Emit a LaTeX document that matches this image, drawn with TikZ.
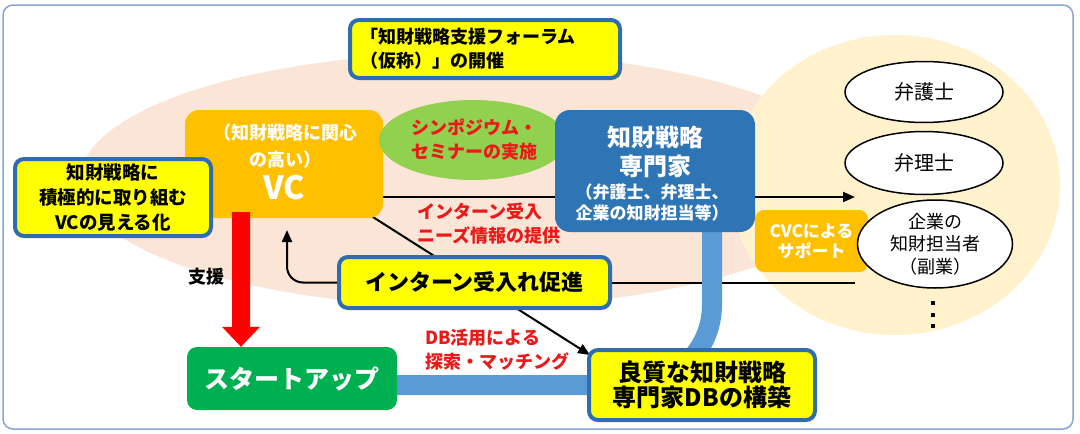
\documentclass[tikz,border=0pt]{standalone}
\usepackage{fontspec}
\setmainfont{Noto Sans CJK JP}
\usetikzlibrary{arrows.meta,calc,shapes.geometric}
\pgfdeclarelayer{back}
\pgfdeclarelayer{lines}
\pgfsetlayers{back,lines,main}
\definecolor{framec}{RGB}{135,165,215}
\definecolor{pinkc}{RGB}{251,229,214}
\definecolor{beigec}{RGB}{255,242,204}
\definecolor{ybfill}{RGB}{255,255,0}
\definecolor{ybline}{RGB}{47,108,176}
\definecolor{orangec}{RGB}{255,192,0}
\definecolor{greenell}{RGB}{146,208,80}
\definecolor{expertc}{RGB}{46,117,182}
\definecolor{startc}{RGB}{0,176,80}
\definecolor{bandc}{RGB}{91,155,213}
\definecolor{redc}{RGB}{255,0,0}
\definecolor{redtext}{RGB}{235,25,25}
\tikzset{
  ybox/.style={draw=ybline, line width=4pt, fill=ybfill, rounded corners=9pt, align=center, inner sep=0pt, text=black},
  obox/.style={fill=orangec, rounded corners=14pt, inner sep=0pt},
  conn/.style={draw=black, line width=2pt},
  tipc/.style={-{Triangle[length=12pt,width=10pt]}},
  band/.style={draw=bandc, line width=20pt, rounded corners=80pt},
  wellipse/.style={ellipse, draw=black, line width=1.5pt, fill=white, inner sep=0pt, align=center},
  redlab/.style={text=redtext, font=\bfseries\fontsize{18}{24}\selectfont, align=left, inner sep=0pt},
  whitetext/.style={text=white, align=center, inner sep=0pt},
}
\begin{document}
\begin{tikzpicture}[x=1pt,y=-1pt]
\useasboundingbox (0,0) rectangle (1080,434);
\begin{pgfonlayer}{back}
\fill[white] (0,0) rectangle (1080,434);
\draw[framec, line width=1.5pt, rounded corners=10pt] (3,5) rectangle (1073,429);
\fill[pinkc] (470,180) ellipse [x radius=390, y radius=127];
\fill[beigec] (895,185) ellipse [x radius=165, y radius=150];
\end{pgfonlayer}

% boxes
\node[obox, minimum width=198, minimum height=108] (vc) at (284,164) {};
\node[whitetext, font=\bfseries\fontsize{18}{27}\selectfont] (vct) at (285,146.5) {（知財戦略に関心\\の高い）};
\node[whitetext, font=\bfseries\fontsize{32}{32}\selectfont] (vcl) at (284,188) {VC};

\node[ellipse, fill=greenell, minimum width=188, minimum height=80, inner sep=0pt] (sym) at (473,140) {};
\node[redlab] (symt) at (474,140) {シンポジウム・\\セミナーの実施};

\node[ybox, minimum width=271, minimum height=51, font=\bfseries\fontsize{22}{26}\selectfont] (intern) at (474.5,282.5) {インターン受入れ促進};

\node[fill=startc, rounded corners=10pt, minimum width=210, minimum height=63, inner sep=0pt, whitetext, font=\bfseries\fontsize{25}{28}\selectfont] (su) at (292,378.5) {スタートアップ};

\node[fill=expertc, rounded corners=15pt, minimum width=200, minimum height=122, inner sep=0pt] (expert) at (655,171) {};
\node[whitetext, font=\bfseries\fontsize{24}{29}\selectfont] (ext1) at (655,151.5) {知財戦略\\専門家};
\node[whitetext, font=\bfseries\fontsize{17}{21}\selectfont] (ext2) at (652,202.5) {（弁護士、弁理士、\\企業の知財担当等）};

\node[ybox, minimum width=226, minimum height=70, font=\bfseries\fontsize{24}{25}\selectfont] (db) at (702,385) {良質な知財戦略\\専門家DBの構築};

\node[ybox, minimum width=270, minimum height=58, text width=250, align=left, font=\bfseries\fontsize{18}{24}\selectfont] (forum) at (485,49) {「知財戦略支援フォーラム\\（仮称）」の開催};
\node[ybox, minimum width=196, minimum height=77, font=\bfseries\fontsize{18.5}{25}\selectfont] (vis) at (113,197.5) {知財戦略に\\積極的に取り組む\\VCの見える化};
\node[fill=orangec, rounded corners=9pt, minimum width=113, minimum height=62, inner sep=0pt, whitetext, font=\bfseries\fontsize{17}{20}\selectfont] (cvc) at (811.5,241) {CVCによる\\サポート};

% right ellipses
\node[wellipse, minimum width=158, minimum height=61, font=\fontsize{20}{24}\selectfont] (e1) at (924,92) {弁護士};
\node[wellipse, minimum width=158, minimum height=63, font=\fontsize{20}{24}\selectfont] (e2) at (924,163) {弁理士};
\node[wellipse, minimum width=155, minimum height=88, font=\fontsize{18}{22.5}\selectfont] (e3) at (935,244) {企業の\\知財担当者\\（副業）};
\fill[black] (931,301) rectangle (935,305);
\fill[black] (931,313) rectangle (935,317);
\fill[black] (931,324) rectangle (935,328);

% labels
\node[redlab, anchor=west] (lab1) at (417,223.5) {インターン受入\\ニーズ情報の提供};
\node[redlab, anchor=west] (lab2) at (425,349.5) {DB活用による\\探索・マッチング};
\node[font=\bfseries\fontsize{18}{22}\selectfont, inner sep=0pt] (shien) at (206,277) {支援};

% connectors (behind boxes)
\begin{pgfonlayer}{lines}
\coordinate (a1) at (855,197);
\draw[conn, tipc] (vc.east |- a1) -- (a1);
\coordinate (d1) at (365,212);
\coordinate (d2) at (590,355);
\draw[conn, tipc] (d1) -- (d2);
\coordinate (u1) at (287,230);
\draw[conn, tipc, rounded corners=16pt] (intern.west) -- (u1 |- intern.west) -- (u1);
\coordinate (r1) at (855,282.5);
\draw[conn] (intern.east) -- (r1);
\coordinate (b0) at (su.center |- db.center);
\coordinate (b1) at (712,385);
\coordinate (b2) at (b1 |- expert.center);
\draw[band] (b0) -- (b1) -- (b2);
\end{pgfonlayer}

% red support arrow (on top of VC box)
\coordinate (ra1) at (241,212);
\coordinate (ra2) at (ra1 |- su.north);
\fill[redc] ($(ra1)+(-9,0)$) -- ($(ra2)+(-9,-20)$) -- ($(ra2)+(-19,-20)$) -- (ra2) -- ($(ra2)+(19,-20)$) -- ($(ra2)+(9,-20)$) -- ($(ra1)+(9,0)$) -- cycle;
\end{tikzpicture}
\end{document}
